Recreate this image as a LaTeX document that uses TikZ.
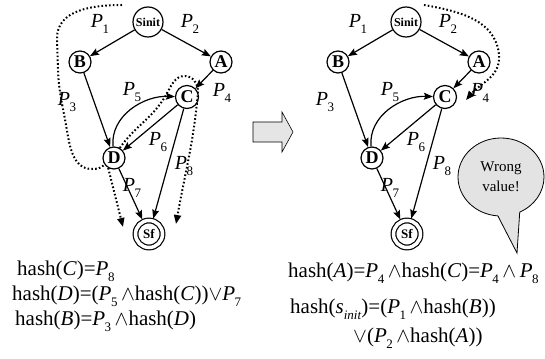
\documentclass[tikz,border=0pt]{standalone}
\usepackage{fontspec}
\setmainfont{Liberation Serif}
\usetikzlibrary{arrows.meta}
\usetikzlibrary{positioning}
\usetikzlibrary{shapes.callouts}

\newcommand{\lowsub}[1]{\raisebox{-0.3em}{\fontsize{13}{13}\selectfont #1}}
\newcommand{\Pv}[1]{\textit{P}\kern-0.5pt\lowsub{#1}}

\begin{document}
\begin{tikzpicture}[x=1pt, y=1pt,
		vtx/.style={circle, draw, line width=1.2pt, inner sep=0pt, minimum size=22pt, fill=white, font=\fontsize{18}{18}\selectfont\bfseries},
		edge/.style={line width=1.2pt, -{Stealth[length=9pt, width=7pt, inset=1.5pt]}},
		trail/.style={line width=2pt, dash pattern=on 1.6pt off 2.2pt, -{Triangle[length=9pt, width=7pt]}},
		plab/.style={inner sep=0pt, font=\fontsize{20}{20}\selectfont},
		eq/.style={anchor=base west, inner sep=0pt, font=\fontsize{21}{24}\selectfont}]
			\useasboundingbox (0,0) rectangle (545,-358);

			\foreach \dx/\g in {0/l, 258/r}
			{
				\begin{scope}[xshift=\dx]
					\node[vtx, minimum size=30pt, font=\fontsize{12}{12}\selectfont\bfseries](s\g) at (148,-22){Sinit};
					\node[vtx](b\g) at (80,-62){B};
					\node[vtx](a\g) at (221,-62){A};
					\node[vtx, minimum size=23pt](c\g) at (187,-97){C};
					\node[vtx](d\g) at (114,-158){D};
					\node[vtx, double, double distance=3.5pt, minimum size=27pt, outer sep=2.5pt, font=\fontsize{13}{13}\selectfont\bfseries](f\g) at (149,-234){Sf};

					\draw[edge] (s\g) -- (b\g);
					\draw[edge] (s\g) -- (a\g);
					\draw[edge] (b\g) -- (d\g);
					\draw[edge] (a\g) -- (c\g);
					\draw[edge] (c\g) -- (d\g);
					\draw[edge] (d\g) to[out=95, in=178] (c\g);
					\draw[edge] (d\g) -- (f\g);
					\draw[edge] (c\g) -- (f\g);

					\node[plab](p1\g) at (100,-24){\Pv{1}};
					\node[plab](p2\g) at (190,-24){\Pv{2}};
					\node[plab](p3\g) at (67,-102){\Pv{3}};
					\node[plab](p4\g) at (222,-93){\Pv{4}};
					\node[plab](p5\g) at (132,-92){\Pv{5}};
					\node[plab](p6\g) at (158,-142){\Pv{6}};
					\node[plab](p7\g) at (132,-188){\Pv{7}};
					\node[plab](p8\g) at (184,-166){\Pv{8}};
				\end{scope}
			}

			% hash paths, left
			\coordinate (tl) at (122,-5);
			\coordinate (el) at (123,-227);
			\coordinate (ec) at (176,-224);
			\draw[trail, -] (tl) to[out=180, in=90] (57,-38) -- (58,-70) to[out=-88, in=100] (66,-125) to[out=-80, in=180] (92,-169) to[out=0, in=-135] (dl.215);
			\draw[trail] (dl.240) -- (el);
			\draw[trail] (dl.60) to[out=55, in=-120] (166,-95) to[out=60, in=180] (185,-76) to[out=0, in=90] (198,-92) to[out=-95, in=80] (ec);

			% hash path, right
			\coordinate (tr) at (424,-5);
			\coordinate (er) at (466,-100);
			\draw[trail] (tr) to[out=-10, in=95] (499,-55) to[out=-85, in=50] (er);

			% big arrow
			\draw[line width=0.6pt, fill=gray!20] (253,-122) -- (282,-122) -- (282,-112) -- (293,-132) -- (282,-152) -- (282,-142) -- (253,-142) -- cycle;

			% callout
			\node[ellipse callout, draw, line width=0.8pt, fill=gray!22, minimum width=86pt, minimum height=78pt, align=center, callout absolute pointer={(517,-253)}, callout pointer arc=30, font=\fontsize{15}{20}\selectfont](wrong) at (501,-177){Wrong\\value!};

			% equations
			\node[eq](eqC) at (17,-275){hash(\textit{C})=\Pv{8}};
			\node[eq](eqD) at (12,-300){hash(\textit{D})=(\Pv{5}\,$\wedge$hash(\textit{C}))$\vee$\Pv{7}};
			\node[eq](eqB) at (15,-325){hash(\textit{B})=\Pv{3}\,$\wedge$hash(\textit{D})};
			\node[eq](eqA) at (288,-277){hash(\textit{A})=\Pv{4}\,$\wedge$hash(\textit{C})=\Pv{4}\,$\wedge$\,\Pv{8}};
			\node[eq](eqS) at (290,-313){hash(\textit{s}\lowsub{\textit{init}})=(\Pv{1}\,$\wedge$hash(\textit{B}))};
			\node[eq](eqS2) at (353,-342){$\vee$(\Pv{2}\,$\wedge$hash(\textit{A}))};
		\end{tikzpicture}
\end{document}
